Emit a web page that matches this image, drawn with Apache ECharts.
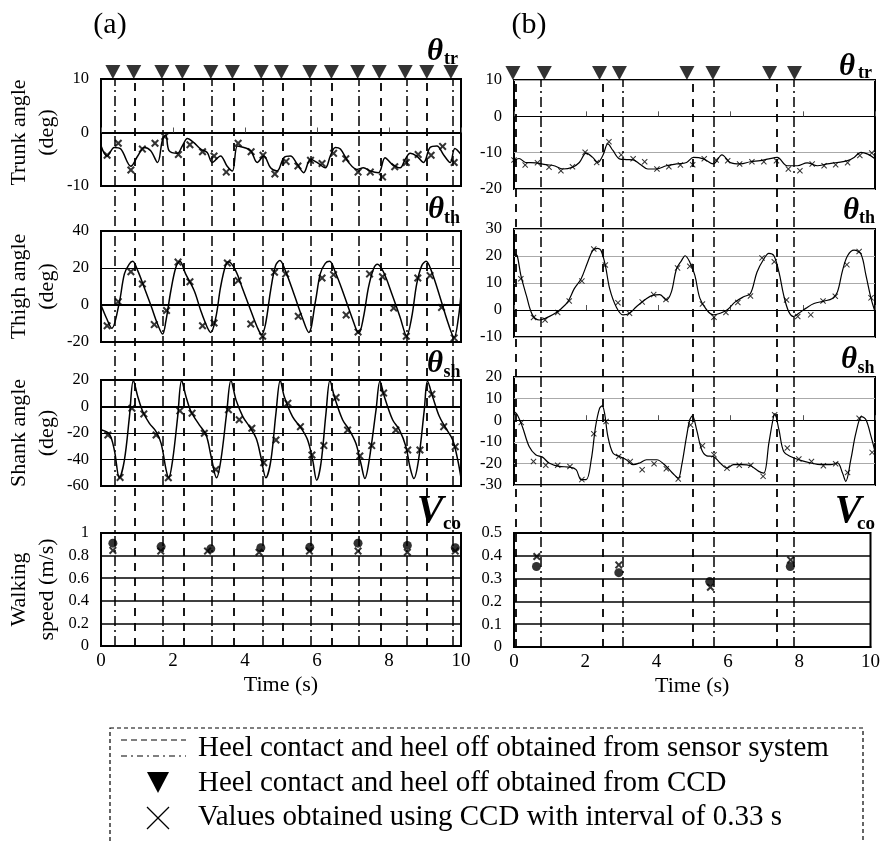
<!DOCTYPE html>
<html>
<head>
<meta charset="utf-8">
<script src="https://cdn.jsdelivr.net/npm/echarts@6/dist/echarts.min.js"></script>
<style>
html,body{margin:0;padding:0;background:#fff;}
#chart{width:883px;height:843px;}
</style>
</head>
<body>
<div id="chart"></div>
<script>
// ---------------- DATA ----------------
const timeTicks = [0, 2, 4, 6, 8, 10];

// (a) vertical event lines from sensor system
const sensorDashDotA = [0.39, 1.72, 3.07, 4.49, 5.82, 7.17, 8.50, 9.78];
const sensorDashedA  = [0.94, 2.30, 3.68, 5.04, 6.40, 7.76, 9.06];
// (a) CCD triangles
const ccdEventsA = [0.33, 0.91, 1.69, 2.26, 3.05, 3.65, 4.45, 5.01, 5.80, 6.40, 7.13, 7.73, 8.45, 9.05, 9.72];

// (b)
const sensorDashedB  = [0.06, 2.45, 4.96, 7.27];
const sensorDashDotB = [0.75, 3.00, 5.54, 7.74];
const ccdEventsB = [-0.03, 0.84, 2.37, 2.92, 4.79, 5.51, 7.08, 7.77];

// (a) trunk angle
const trunkCurveA = [[0,-2.5],[0.17,-4.4],[0.37,-2.8],[0.55,-3.1],[0.83,-6.3],[1.02,-4.4],[1.2,-2.8],[1.38,-3.4],[1.57,-5.6],[1.71,-1.3],[1.8,-0.5],[1.89,-3.4],[2.12,-3.9],[2.26,-2.5],[2.4,-1.1],[2.58,-1.9],[2.77,-3.1],[2.95,-3.75],[3.09,-5.6],[3.32,-4.4],[3.5,-6.25],[3.65,-7.2],[3.79,-2.5],[3.97,-2.8],[4.16,-3.4],[4.34,-5.6],[4.52,-4.4],[4.71,-6.6],[4.89,-7.2],[5.08,-4.7],[5.26,-4.4],[5.45,-5.9],[5.63,-7.5],[5.82,-5.0],[6.0,-5.6],[6.23,-6.6],[6.37,-4.4],[6.51,-2.8],[6.65,-3.1],[6.88,-5.6],[7.11,-6.9],[7.29,-6.6],[7.48,-7.2],[7.71,-7.5],[7.89,-4.7],[8.08,-5.9],[8.31,-6.6],[8.45,-5.0],[8.59,-3.9],[8.77,-4.4],[8.96,-5.6],[9.14,-2.8],[9.33,-2.5],[9.51,-4.1],[9.7,-5.6],[9.83,-3.0],[10,-4.1]];
const trunkCcdA = [[0.17,-4.25],[0.48,-2.0],[0.83,-7.0],[1.15,-3.1],[1.5,-2.0],[1.77,-0.75],[2.15,-4.1],[2.47,-2.3],[2.82,-3.6],[3.14,-4.4],[3.48,-7.4],[3.81,-2.0],[4.17,-3.6],[4.5,-4.25],[4.83,-7.75],[5.14,-5.4],[5.47,-6.25],[5.82,-5.2],[6.14,-5.8],[6.46,-3.9],[6.8,-4.9],[7.14,-7.4],[7.48,-7.4],[7.82,-8.3],[8.16,-6.4],[8.48,-5.6],[8.81,-4.1],[9.17,-4.25],[9.49,-2.6],[9.81,-5.6]];

// (a) thigh angle
const thighCurveA = [[0,0],[0.15,-7],[0.3,-12.6],[0.5,0.5],[0.65,16.8],[0.78,22],[0.88,23.6],[1.02,18.6],[1.2,9.5],[1.39,-0.4],[1.57,-10.3],[1.71,-15.7],[1.8,-9],[1.94,7.7],[2.08,20.4],[2.19,23.6],[2.35,16.8],[2.59,7.7],[2.77,-3],[2.95,-12],[3.05,-14.8],[3.19,-6.7],[3.32,9.5],[3.46,21.3],[3.55,23.4],[3.74,18.6],[3.92,9.5],[4.16,-3],[4.34,-12],[4.46,-16],[4.57,-10.3],[4.71,7.7],[4.85,21.3],[4.97,24],[5.12,18.6],[5.36,6],[5.59,-6.7],[5.77,-14.8],[5.96,2.3],[6.09,16.8],[6.23,22.5],[6.35,23.6],[6.51,17.7],[6.74,6],[6.97,-6.7],[7.16,-15.3],[7.29,-6.7],[7.43,9.5],[7.57,19.5],[7.68,22],[7.85,17.7],[8.08,6],[8.31,-6.7],[8.49,-16.6],[8.63,-6.7],[8.77,11.4],[8.91,21.3],[9.03,23.6],[9.19,17.7],[9.42,4.1],[9.65,-10.3],[9.81,-17.5],[9.93,-6.7],[10,6]];
const thighCcdA = [[0.17,-11.2],[0.48,1.8],[0.83,18],[1.15,11.4],[1.48,-10.6],[1.82,-3],[2.14,23.2],[2.47,12.6],[2.82,-11.2],[3.14,-9.7],[3.51,22.7],[3.81,13.2],[4.16,-10.3],[4.49,-16.9],[4.82,17.7],[5.13,16.8],[5.48,-6.1],[6.14,14.6],[6.46,16.4],[6.81,-5.4],[7.14,-14.6],[7.46,16.8],[7.82,15.3],[8.13,-1.6],[8.48,-16.9],[8.8,14.6],[9.14,15.9],[9.46,-1.3],[9.81,-17.8]];

// (a) shank angle
const shankCurveA = [[0.02,-17.7],[0.23,-20.7],[0.37,-32.8],[0.51,-53.8],[0.65,-40.4],[0.79,-7.6],[0.9,19.7],[1.02,7.6],[1.16,-3.8],[1.34,-12.6],[1.53,-18.9],[1.67,-27.8],[1.81,-48],[1.88,-53.8],[1.99,-40.4],[2.13,-7.6],[2.24,19.7],[2.36,7.6],[2.5,-3.8],[2.73,-13.9],[2.92,-21.5],[3.06,-37.9],[3.21,-53.8],[3.33,-40.4],[3.49,-5],[3.61,19.7],[3.75,5],[3.94,-7.6],[4.12,-15],[4.31,-24],[4.44,-37.9],[4.58,-53.8],[4.72,-40.4],[4.86,-5],[4.98,19.7],[5.09,7.6],[5.32,-7.6],[5.56,-16.4],[5.74,-25.3],[5.88,-40.4],[5.99,-55.6],[6.11,-43],[6.25,-5],[6.36,19.7],[6.48,7.6],[6.71,-10],[6.9,-17.7],[7.08,-27.8],[7.22,-43],[7.33,-54.3],[7.45,-40.4],[7.64,-2.5],[7.75,19],[7.87,7.6],[8.1,-10],[8.29,-17.7],[8.47,-30.3],[8.58,-45.5],[8.69,-54.3],[8.82,-40.4],[8.98,-2.5],[9.07,19],[9.21,7.6],[9.4,-7.6],[9.58,-16.4],[9.77,-25.3],[9.91,-40.4],[10,-54]];
const shankCcdA = [[0.19,-21.5],[0.53,-53.5],[0.86,-1.3],[1.19,-5.6],[1.53,-21.5],[1.87,-53.8],[2.19,-3.3],[2.53,-5],[2.87,-20.2],[3.19,-47.5],[3.54,-2.5],[3.84,-10],[4.19,-16.4],[4.52,-42.4],[4.86,-25.3],[5.19,2.5],[5.54,-15.2],[5.86,-36.6],[6.19,-29.5],[6.53,6.8],[6.85,-17.7],[7.19,-37.4],[7.52,-29.5],[7.85,10.1],[8.19,-17.7],[8.52,-32.8],[8.86,-32.8],[9.19,9.3],[9.52,-15.2],[9.84,-30.3]];

// (a) walking speed
const speedSensorA = [[0.33,0.91],[1.67,0.88],[3.05,0.86],[4.44,0.87],[5.8,0.875],[7.14,0.91],[8.51,0.89],[9.84,0.87]];
const speedCcdA    = [[0.33,0.846],[1.66,0.84],[2.96,0.84],[4.39,0.83],[5.79,0.84],[7.14,0.84],[8.51,0.83],[9.84,0.84]];

// (b) trunk angle
const trunkCurveB = [[0,-12.2],[0.14,-11.6],[0.32,-12.7],[0.6,-12.8],[0.88,-13.3],[1.11,-13.6],[1.35,-14.5],[1.62,-14],[1.81,-12.7],[2.0,-10.1],[2.18,-11.3],[2.32,-12.7],[2.46,-10.8],[2.6,-7.6],[2.74,-9.4],[2.92,-11.7],[3.11,-11.9],[3.3,-12],[3.48,-13.1],[3.71,-14.5],[3.95,-14.5],[4.22,-13.6],[4.5,-13.1],[4.78,-12.7],[4.97,-11.3],[5.25,-11.7],[5.52,-13.1],[5.76,-10.6],[5.99,-12.7],[6.27,-13.1],[6.55,-12.5],[6.82,-12.2],[7.06,-11.7],[7.29,-11.3],[7.57,-13.6],[7.85,-13.6],[8.12,-12.8],[8.4,-13.6],[8.68,-13.1],[8.96,-12.7],[9.24,-12.2],[9.42,-11.3],[9.61,-9.9],[9.8,-10.4],[10,-11.7]];
const trunkCcdB = [[0.0,-12],[0.31,-13.4],[0.65,-12.8],[0.97,-14],[1.3,-15],[1.62,-13.9],[1.97,-9.9],[2.29,-12.7],[2.63,-7],[2.97,-10.6],[3.3,-11.7],[3.62,-12.5],[3.96,-14.5],[4.29,-13.9],[4.61,-13.4],[4.95,-13.3],[5.27,-11.7],[5.6,-12],[5.92,-12.2],[6.25,-13.1],[6.59,-12.5],[6.92,-12.5],[7.27,-12.2],[7.6,-14.5],[7.92,-15],[8.26,-13.1],[8.59,-13.6],[8.91,-13.3],[9.24,-12.8],[9.58,-10.8],[9.91,-10.1]];

// (b) thigh angle
const thighCurveB = [[0.03,20.7],[0.09,20.1],[0.19,12.8],[0.34,5.5],[0.51,-1.8],[0.7,-3.7],[0.88,-3],[1.07,-1.8],[1.3,0.4],[1.49,3],[1.67,7.9],[1.86,11.6],[2.04,17.7],[2.18,22],[2.32,22.8],[2.41,22],[2.53,16.5],[2.65,7.9],[2.83,1.2],[3.02,-1.8],[3.2,-1.2],[3.39,1.2],[3.62,3.7],[3.85,5.5],[4.04,5.7],[4.22,3.7],[4.36,6.7],[4.5,15.2],[4.64,18.3],[4.74,20.1],[4.87,17.7],[5.01,12.8],[5.15,4.3],[5.34,0],[5.52,-1.8],[5.71,-1.2],[5.9,0],[6.13,3],[6.36,4.9],[6.55,6.1],[6.73,14],[6.92,18.9],[7.06,21],[7.2,20.1],[7.34,14],[7.47,5.5],[7.61,-0.6],[7.75,-2.4],[7.89,-1.2],[8.08,0.6],[8.31,2.4],[8.59,3.3],[8.82,4.3],[8.96,6.7],[9.1,14.6],[9.24,20.1],[9.42,22.2],[9.61,20.7],[9.75,12.8],[9.89,4.3],[10,-0.6]];
const thighCcdB = [[0.19,11.6],[0.54,-2.8],[0.86,-3.7],[1.21,-0.9],[1.53,3.3],[1.88,10.7],[2.21,22.6],[2.53,16.7],[2.88,2.7],[3.2,-1.2],[3.55,3],[3.87,5.7],[4.21,3.9],[4.53,15.6],[4.87,16.2],[5.22,2.2],[5.54,-2.7],[5.87,-0.9],[6.2,2.8],[6.55,5.2],[6.87,19.3],[7.21,17.9],[7.55,3.7],[7.86,-2.4],[8.22,-1.8],[8.56,3.3],[8.9,5.1],[9.22,16.8],[9.56,21.7],[9.89,4.5]];

// (b) shank angle
const shankCurveB = [[0,4],[0.09,2.5],[0.23,-2.9],[0.42,-12.2],[0.6,-16],[0.79,-17.1],[0.97,-19.8],[1.25,-21.4],[1.53,-21.7],[1.72,-22.9],[1.86,-27.5],[2.0,-27.5],[2.14,-18.3],[2.26,-2.9],[2.37,5.5],[2.44,6.6],[2.51,3.2],[2.6,-7.5],[2.74,-15.2],[2.92,-16.8],[3.11,-18.3],[3.3,-20.6],[3.48,-19.8],[3.67,-18.3],[3.95,-18.3],[4.22,-21.4],[4.41,-24.8],[4.55,-26.8],[4.64,-21.4],[4.78,-7.5],[4.87,0.2],[4.94,2],[5.06,-4.5],[5.2,-13.7],[5.34,-16.5],[5.52,-16.8],[5.71,-19.8],[5.9,-22.2],[6.08,-20.6],[6.31,-20.6],[6.55,-21.1],[6.78,-23.7],[6.92,-24.5],[7.06,-10.6],[7.18,0.9],[7.22,2.9],[7.34,-4.5],[7.47,-14.5],[7.66,-16.8],[7.94,-18.6],[8.22,-19.8],[8.5,-20.6],[8.77,-20.6],[8.96,-19.8],[9.1,-24.5],[9.19,-28.3],[9.33,-18.3],[9.47,-6],[9.63,1.7],[9.75,0.2],[9.89,-7.5],[10,-14.5]];
const shankCcdB = [[0.2,-1.1],[0.54,-19.1],[0.88,-20.9],[1.21,-20.9],[1.55,-21.4],[1.88,-27.5],[2.21,-6.3],[2.55,-0.6],[2.9,-16.8],[3.22,-19.1],[3.55,-22.9],[3.88,-20.2],[4.22,-22.5],[4.55,-27.2],[4.89,-2.2],[5.22,-11.8],[5.54,-16],[5.9,-22.2],[6.24,-20.9],[6.56,-20.9],[6.9,-26],[7.22,2.5],[7.57,-12.9],[7.89,-18],[8.24,-19.1],[8.57,-21.1],[8.91,-20.2],[9.24,-24.2],[9.56,0.9],[9.92,-14.9]];

// (b) walking speed
const speedSensorB = [[0.63,0.353],[2.94,0.326],[5.49,0.287],[7.75,0.353]];
const speedCcdB    = [[0.64,0.397],[2.94,0.36],[5.51,0.262],[7.76,0.382]];

// ---------------- CHART ----------------
const SERIF = '"Liberation Serif","DejaVu Serif",serif';
const CROSS_BOLD = 'path://M0,1.8L1.8,0L5,3.2L8.2,0L10,1.8L6.8,5L10,8.2L8.2,10L5,6.8L1.8,10L0,8.2L3.2,5Z';
const CROSS_THIN = 'path://M0,1.2L1.2,0L5,3.8L8.8,0L10,1.2L6.2,5L10,8.8L8.8,10L5,6.2L1.2,10L0,8.8L3.8,5Z';

const LX = 101, LW = 360, RX = 514, RW = 361;
const grids = [
  {left: LX, top: 79,  width: LW, height: 107},
  {left: LX, top: 231, width: LW, height: 111},
  {left: LX, top: 380, width: LW, height: 106},
  {left: LX, top: 533, width: LW, height: 113},
  {left: RX, top: 80,  width: RW, height: 109},
  {left: RX, top: 229, width: RW, height: 108},
  {left: RX, top: 377, width: RW, height: 108},
  {left: RX, top: 533, width: RW, height: 114},
  {left: LX, top: 79,  width: LW, height: 567},
  {left: RX, top: 80,  width: RW, height: 567}
].map((g, i) => Object.assign({
  show: i < 8, borderColor: '#000', borderWidth: 2, backgroundColor: 'transparent'
}, g));

function xAx(gi, opts) {
  return Object.assign({
    gridIndex: gi, type: 'value', min: 0, max: 10, interval: 2,
    axisLine: {show: true, onZero: true, lineStyle: {color: '#000', width: 2}},
    axisTick: {show: false},
    axisLabel: {show: false},
    splitLine: {show: false}
  }, opts || {});
}
function yAx(gi, min, max, interval, split, opts) {
  return Object.assign({
    gridIndex: gi, type: 'value', min: min, max: max, interval: interval,
    axisLine: {show: false}, axisTick: {show: false},
    axisLabel: {color: '#000', fontFamily: SERIF, fontSize: 16.5, margin: 12},
    splitLine: split ? {show: true, lineStyle: split} : {show: false}
  }, opts || {});
}
const nameStyle = {color: '#000', fontFamily: SERIF, fontSize: 22, lineHeight: 28};
const bottomX = (gi) => xAx(gi, {
  axisLine: {show: true, onZero: false, lineStyle: {color: '#000', width: 2}},
  axisLabel: {show: true, color: '#000', fontFamily: SERIF, fontSize: 19, margin: 6,
    formatter: v => timeTicks.includes(v) ? String(v) : ''},
  name: 'Time (s)', nameLocation: 'middle', nameGap: 28,
  nameTextStyle: {color: '#000', fontFamily: SERIF, fontSize: 22}
});
const tickIn = {show: true, inside: true, length: 5, lineStyle: {color: '#555', width: 1}};

const xAxes = [
  xAx(0, {axisTick: tickIn}),
  xAx(1),
  xAx(2),
  bottomX(3),
  xAx(4, {axisLine: {show: true, onZero: true, lineStyle: {color: '#000', width: 1}}, axisTick: tickIn}),
  xAx(5, {axisLine: {show: true, onZero: true, lineStyle: {color: '#000', width: 1}}, axisTick: tickIn}),
  xAx(6, {axisLine: {show: true, onZero: true, lineStyle: {color: '#000', width: 1}}, axisTick: tickIn}),
  bottomX(7),
  xAx(8, {show: false}),
  xAx(9, {show: false})
];
const blackSplit = {color: '#000', width: 1.2};
const graySplit = {color: '#aaa', width: 1.2};
const yName = (n) => ({name: n, nameLocation: 'middle', nameRotate: 90, nameGap: 40, nameTextStyle: nameStyle});
const yAxes = [
  yAx(0, -10, 10, 10, null, yName('Trunk angle\n(deg)')),
  yAx(1, -20, 40, 20, blackSplit, yName('Thigh angle\n(deg)')),
  yAx(2, -60, 20, 20, blackSplit, yName('Shank angle\n(deg)')),
  yAx(3, 0, 1, 0.2, {color: '#000', width: 1.5}, yName('Walking\nspeed (m/s)')),
  yAx(4, -20, 10, 10, graySplit),
  yAx(5, -10, 30, 10, graySplit),
  yAx(6, -30, 20, 10, graySplit),
  yAx(7, 0, 0.5, 0.1, {color: '#000', width: 1.5}),
  yAx(8, 0, 1, 1, null, {show: false}),
  yAx(9, 0, 1, 1, null, {show: false})
];

function curve(idx, data, w) {
  return {type: 'line', xAxisIndex: idx, yAxisIndex: idx, data: data, smooth: 0.35,
    showSymbol: false, symbol: 'none', lineStyle: {color: '#000', width: w}, z: 3};
}
function crosses(idx, data, size, path) {
  return {type: 'scatter', xAxisIndex: idx, yAxisIndex: idx, data: data, symbol: path,
    symbolSize: size, itemStyle: {color: '#000'}, z: 4};
}
function dots(idx, data) {
  return {type: 'scatter', xAxisIndex: idx, yAxisIndex: idx, data: data, symbol: 'circle',
    symbolSize: 9, itemStyle: {color: '#000'}, z: 4};
}
function vlines(idx, times, type, width) {
  return {type: 'line', xAxisIndex: idx, yAxisIndex: idx, data: [], silent: true,
    markLine: {silent: true, symbol: ['none', 'none'], animation: false,
      label: {show: false},
      lineStyle: {color: '#000', type: type, width: width},
      data: times.map(t => ({xAxis: t}))}};
}
function triangles(idx, times) {
  return {type: 'scatter', xAxisIndex: idx, yAxisIndex: idx, clip: false,
    data: times.map(t => [t, 1]), symbol: 'triangle', symbolRotate: 180,
    symbolSize: [15, 14], symbolOffset: [0, -7], itemStyle: {color: '#000'}, z: 5};
}

const series = [
  curve(0, trunkCurveA, 1.5), crosses(0, trunkCcdA, 8, CROSS_BOLD),
  curve(1, thighCurveA, 1.5), crosses(1, thighCcdA, 8, CROSS_BOLD),
  curve(2, shankCurveA, 1.5), crosses(2, shankCcdA, 8, CROSS_BOLD),
  dots(3, speedSensorA), crosses(3, speedCcdA, 8, CROSS_BOLD),
  curve(4, trunkCurveB, 1.2), crosses(4, trunkCcdB, 6, CROSS_THIN),
  curve(5, thighCurveB, 1.2), crosses(5, thighCcdB, 6, CROSS_THIN),
  curve(6, shankCurveB, 1.2), crosses(6, shankCcdB, 6, CROSS_THIN),
  dots(7, speedSensorB), crosses(7, speedCcdB, 8, CROSS_BOLD),
  vlines(8, sensorDashDotA, [10, 4, 2, 4], 1.5),
  vlines(8, sensorDashedA, [8, 7], 1.8),
  triangles(8, ccdEventsA),
  vlines(9, sensorDashedB, [8, 7], 1.8),
  vlines(9, sensorDashDotB, [10, 4, 2, 4], 1.5),
  triangles(9, ccdEventsB)
];

// text labels (panel symbols, panel letters, legend)
function txt(text, x, y, size, extra) {
  return {type: 'text', x: x, y: y, silent: true,
    style: Object.assign({text: text, fill: '#000', fontFamily: SERIF, fontSize: size,
      align: 'center', verticalAlign: 'middle'}, extra || {})};
}
const bi = {fontStyle: 'italic', fontWeight: 'bold'};
const b = {fontWeight: 'bold'};
const graphic = [
  txt('(a)', 110, 25, 30), txt('(b)', 529, 25, 30),
  // panel symbols
  txt('θ', 435, 52, 31, bi), txt('tr', 451, 59, 18, b),
  txt('θ', 847, 67, 31, bi), txt('tr', 865, 73, 18, b),
  txt('θ', 436, 210, 31, bi), txt('th', 452, 218, 18, b),
  txt('θ', 851, 211, 31, bi), txt('th', 867, 218, 18, b),
  txt('θ', 435, 364, 31, bi), txt('sh', 452, 372, 18, b),
  txt('θ', 849, 360, 31, bi), txt('sh', 866, 368, 18, b),
  txt('V', 430, 512, 40, bi), txt('co', 452, 524, 19, b),
  txt('V', 848, 512, 40, bi), txt('co', 866, 524, 19, b),
  // legend box
  {type: 'rect', silent: true, shape: {x: 110, y: 728, width: 753, height: 140},
    style: {fill: 'none', stroke: '#000', lineWidth: 1.2, lineDash: [4, 3]}},
  {type: 'line', silent: true, shape: {x1: 121, y1: 740, x2: 186, y2: 740},
    style: {stroke: '#000', lineWidth: 1.2, lineDash: [6, 4]}},
  {type: 'line', silent: true, shape: {x1: 121, y1: 756, x2: 186, y2: 756},
    style: {stroke: '#000', lineWidth: 1.2, lineDash: [6, 4, 2, 4]}},
  {type: 'polygon', silent: true, shape: {points: [[147, 772], [169, 772], [158, 793]]},
    style: {fill: '#000'}},
  {type: 'line', silent: true, shape: {x1: 147, y1: 807, x2: 169, y2: 829}, style: {stroke: '#000', lineWidth: 1.2}},
  {type: 'line', silent: true, shape: {x1: 169, y1: 807, x2: 147, y2: 829}, style: {stroke: '#000', lineWidth: 1.2}},
  txt('Heel contact and heel off obtained from sensor system', 198, 748, 29, {align: 'left'}),
  txt('Heel contact and heel off obtained from CCD', 198, 783, 29, {align: 'left'}),
  txt('Values obtained using CCD with interval of 0.33 s', 198, 817, 29, {align: 'left'})
];

const chart = echarts.init(document.getElementById('chart'), null, {renderer: 'canvas'});
chart.setOption({
  animation: false,
  backgroundColor: '#fff',
  grid: grids,
  xAxis: xAxes,
  yAxis: yAxes,
  series: series,
  graphic: graphic
});
</script>
</body>
</html>
